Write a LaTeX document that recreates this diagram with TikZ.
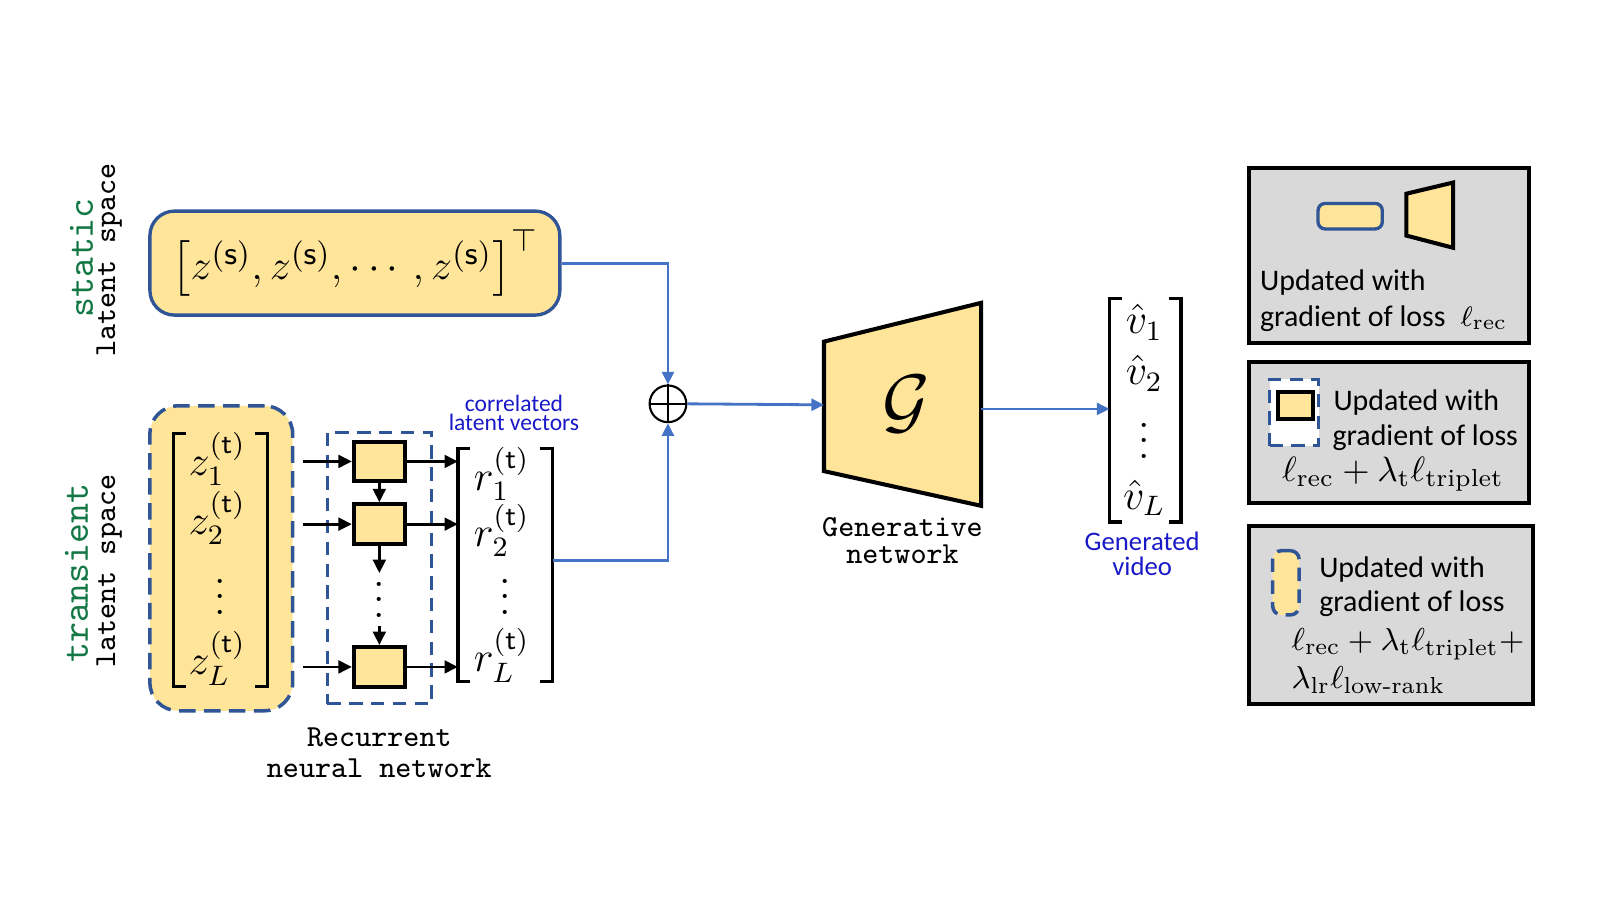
\documentclass[tikz,border=0pt]{standalone}
\usepackage{amsmath,amssymb}
\usepackage{fontspec}
\newfontfamily\calibri{Carlito}
\usetikzlibrary{arrows.meta,positioning}
\definecolor{boxyellow}{RGB}{255,229,153}
\definecolor{boxblue}{RGB}{47,85,151}
\definecolor{linkblue}{RGB}{68,114,196}
\definecolor{txtblue}{RGB}{25,25,200}
\definecolor{txtgreen}{RGB}{20,120,70}
\definecolor{legendgray}{RGB}{217,217,217}
\newcommand{\pxu}{0.0102cm}
\newcommand{\colldots}{\vbox{\baselineskip=4.4pt\lineskiplimit=0pt\hbox{.}\hbox{.}\hbox{.}}}
\tikzset{
  statbox/.style={draw=boxblue,line width=0.95pt,fill=boxyellow,rounded corners=7pt},
  tranbox/.style={draw=boxblue,line width=1pt,fill=boxyellow,rounded corners=8pt,dash pattern=on 4.7pt off 2.4pt},
  rnnbox/.style={draw=boxblue,line width=1pt,dash pattern=on 3.8pt off 2.4pt},
  cell/.style={draw=black,line width=1.15pt,fill=boxyellow,inner sep=0pt},
  gshape/.style={draw=black,line width=1.15pt,fill=boxyellow,line join=miter},
  brk/.style={draw=black,line width=0.95pt},
  ent/.style={inner sep=0pt,font=\fontsize{11.5}{13}\selectfont},
  dotsent/.style={inner sep=0pt,font=\fontsize{12}{13}\selectfont},
  blk/.style={-{Triangle[length=3.8pt,width=3.6pt]},line width=0.8pt},
  link/.style={-{Triangle[length=3.6pt,width=3.4pt]},draw=linkblue,line width=0.8pt},
  spacelbl/.style={rotate=90,inner sep=0pt,font=\fontsize{8.7}{10}\ttfamily},
  bluelbl/.style={text=txtblue,align=center,inner sep=0pt},
  ttlbl/.style={align=center,inner sep=0pt},
  legbox/.style={draw=black,line width=1.15pt,fill=legendgray,inner sep=0pt},
  legtxt/.style={inner sep=0pt,font=\fontsize{8.5}{10}\calibri},
  legmath/.style={inner sep=0pt,font=\fontsize{10}{12}\selectfont}
}
\begin{document}
\begin{tikzpicture}[x=\pxu,y=-\pxu]
	\useasboundingbox (0,0) rectangle (1569,882);
	% Static latent space
	\node[statbox,inner sep=0pt,minimum width=402*\pxu,minimum height=102*\pxu] (zs) at (348,258)
		{\fontsize{13.2}{15}\selectfont$\left[z^{(\mathsf{s})}, z^{(\mathsf{s})}, \cdots, z^{(\mathsf{s})}\right]^{\top}$};
	\node[spacelbl,text=txtgreen,font=\fontsize{10.8}{12}\ttfamily] (statname) at (80,253) {static};
	\node[spacelbl] (statspace) at (107,255) {latent space};
	% Transient latent space
	\node[spacelbl,text=txtgreen,font=\fontsize{10.8}{12}\ttfamily] (tranname) at (75,562) {transient};
	\node[spacelbl] (transpace) at (107,560) {latent space};
	\node[tranbox,minimum width=140*\pxu,minimum height=299*\pxu] (zt) at (217,547.5) {};
	\node[ent] (z1) at (213,450) {$z_1^{(\mathsf{t})}$};
	\node[ent] (z2) at (213,508) {$z_2^{(\mathsf{t})}$};
	\node[dotsent] (zdots) at (216,585) {\colldots};
	\node[ent] (zL) at (213,646) {$z_L^{(\mathsf{t})}$};
	\draw[brk] (182,425) -| (170,673) -- (182,673);
	\draw[brk] (250,425) -| (262,673) -- (250,673);
	% Recurrent network
	\node[rnnbox,minimum width=102*\pxu,minimum height=266*\pxu] (rnn) at (372,557) {};
	\node[cell,minimum width=50*\pxu,minimum height=39*\pxu] (c1) at (372,452.5) {};
	\node[cell,minimum width=50*\pxu,minimum height=39*\pxu] (c2) at (372,514) {};
	\node[cell,minimum width=50*\pxu,minimum height=39*\pxu] (cL) at (372,654) {};
	\node[dotsent] (cdots) at (372,588) {\colldots};
	\coordinate (cgo) at (372,562);
	\coordinate (ccome) at (372,614);
	\draw[blk] (c1.south) -- (c2.north);
	\draw[blk] (c2.south) -- (cgo);
	\draw[blk] (ccome) -- (cL.north);
	\foreach \c in {c1,c2,cL} {
		\coordinate (in-\c) at (297,0 |- \c.west);
		\coordinate (out-\c) at (449,0 |- \c.east);
		\draw[blk] (in-\c) -- (\c.west);
		\draw[blk] (\c.east) -- (out-\c);
	}
	\node[ttlbl,font=\fontsize{8.7}{9}\ttfamily] (rnnname) at (372,738) {Recurrent\\neural network};
	% Correlated vectors
	\node[bluelbl,font=\fontsize{6.7}{5.6}\calibri] (corr) at (504,405) {correlated\\latent vectors};
	\node[ent] (r1) at (492,465) {$r_1^{(\mathsf{t})}$};
	\node[ent] (r2) at (492,520) {$r_2^{(\mathsf{t})}$};
	\node[dotsent] (rdots) at (495,585) {\colldots};
	\node[ent] (rL) at (492,643) {$r_L^{(\mathsf{t})}$};
	\draw[brk] (461,440) -| (449,668) -- (461,668);
	\draw[brk] (530,440) -| (542,668) -- (530,668);
	% Sum
	\node[draw,circle,line width=0.6pt,minimum size=36*\pxu,inner sep=0pt] (sum) at (655,396) {};
	\draw[line width=0.6pt] (sum.north) -- (sum.south) (sum.west) -- (sum.east);
	\coordinate (rout) at (542,550);
	\draw[link] (zs.east) -| (sum.north);
	\draw[link] (rout) -| (sum.south);
	% Generator
	\draw[gshape] (808,335) -- (962,297) -- (962,496) -- (808,462) -- cycle;
	\node[inner sep=0pt,font=\fontsize{20}{24}\selectfont] (G) at (889,396) {$\mathcal{G}$};
	\coordinate (Gin) at (808,397);
	\coordinate (Gout) at (962,401);
	\draw[link] (sum.east) -- (Gin);
	\node[ttlbl,font=\fontsize{8.7}{7.6}\ttfamily] (gname) at (885,530) {Generative\\network};
	% Generated video
	\node[ent] (v1) at (1122,316) {$\hat{v}_1$};
	\node[ent] (v2) at (1122,366) {$\hat{v}_2$};
	\node[dotsent] (vdots) at (1122,432) {\colldots};
	\node[ent] (vL) at (1122,488) {$\hat{v}_L$};
	\draw[brk] (1100,293) -| (1088,512) -- (1100,512);
	\draw[brk] (1146,293) -| (1158,512) -- (1146,512);
	\coordinate (vin) at (1088,401);
	\draw[link] (Gout) -- (vin);
	\node[bluelbl,font=\fontsize{7.6}{7.2}\calibri] (vname) at (1120,543) {Generated\\video};
	% Legend 1
	\node[legbox,minimum width=274*\pxu,minimum height=171*\pxu] (leg1) at (1362,250.5) {};
	\node[statbox,rounded corners=2pt,minimum width=63*\pxu,minimum height=25*\pxu] (leg1s) at (1324,212) {};
	\draw[gshape] (1379,190) -- (1425,179) -- (1425,243) -- (1379,231) -- cycle;
	\node[legtxt,anchor=base west] (leg1a) at (1235,285) {Updated with};
	\node[legtxt,anchor=base west] (leg1b) at (1235,320) {gradient of loss\enspace$\ell_{\mathrm{rec}}$};
	% Legend 2
	\node[legbox,minimum width=274*\pxu,minimum height=138*\pxu] (leg2) at (1362,424) {};
	\node[rnnbox,fill=white,minimum width=48*\pxu,minimum height=65*\pxu] (leg2d) at (1269,404.5) {};
	\node[cell,minimum width=35*\pxu,minimum height=27*\pxu] (leg2c) at (1270.5,397.5) {};
	\node[legtxt,anchor=base west] (leg2a) at (1307,403) {Updated with};
	\node[legtxt,anchor=base west] (leg2b) at (1306,437) {gradient of loss};
	\node[legmath,anchor=base] (leg2m) at (1366,472) {$\ell_{\mathrm{rec}} + \lambda_{\mathrm{t}}\ell_{\mathrm{triplet}}$};
	% Legend 3
	\node[legbox,minimum width=278*\pxu,minimum height=174*\pxu] (leg3) at (1364,603) {};
	\node[tranbox,rounded corners=2.5pt,dash pattern=on 3.8pt off 2.4pt,minimum width=26*\pxu,minimum height=63*\pxu] (leg3d) at (1261,571.5) {};
	\node[legtxt,anchor=base west] (leg3a) at (1293,566) {Updated with};
	\node[legtxt,anchor=base west] (leg3b) at (1293,600) {gradient of loss};
	\node[legmath,font=\fontsize{9.4}{11}\selectfont,anchor=base west] (leg3m) at (1266,638) {$\ell_{\mathrm{rec}} + \lambda_{\mathrm{t}}\ell_{\mathrm{triplet}}{+}$};
	\node[legmath,font=\fontsize{9.4}{11}\selectfont,anchor=base west] (leg3n) at (1266,675) {$\lambda_{\mathrm{lr}}\ell_{\text{low-rank}}$};
\end{tikzpicture}
\end{document}
